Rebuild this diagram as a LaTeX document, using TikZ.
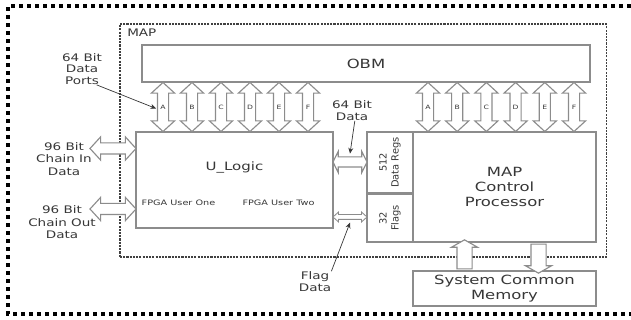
\documentclass[tikz,border=0pt]{standalone}
\usepackage{fontspec}
\setmainfont{DejaVu Sans}[FakeStretch=1.3]
\newfontfamily\regsfont{DejaVu Sans}
\definecolor{boxgray}{RGB}{140,140,140}
\definecolor{txtgray}{RGB}{55,55,55}
\usetikzlibrary{arrows.meta, shapes.arrows}

\begin{document}
\begin{tikzpicture}[x=0.025cm, y=-0.025cm,
          frame/.style={
              draw=black,
              line width=0.09cm,
              dash pattern=on 0.1cm off 0.1cm
            },
          mapbox/.style={
              draw=black!75,
              line width=0.8pt,
              dash pattern=on 1.5pt off 0.8pt,
              minimum width=12.15cm,
              minimum height=5.825cm
            },
          box/.style={
              draw=boxgray,
              fill=white,
              line width=0.9pt,
              text=txtgray,
              align=center,
              inner sep=0pt,
              font=\fontsize{9}{10.4}\selectfont
            },
          regbox/.style={
              box,
              rotate=90,
              minimum height=1.15cm,
              font=\regsfont\fontsize{7}{8.6}\selectfont
            },
          port/.style={
              double arrow,
              draw=boxgray,
              fill=white,
              line width=0.8pt,
              inner xsep=0pt,
              inner ysep=0.125cm,
              double arrow head extend=0.15cm,
              double arrow tip angle=95,
              minimum height=1.225cm
            },
          memarr/.style={
              single arrow,
              draw=boxgray,
              fill=white,
              line width=0.8pt,
              inner xsep=0pt,
              inner ysep=0.175cm,
              single arrow head extend=0.1375cm,
              single arrow tip angle=121,
              minimum height=0.725cm
            },
          note/.style={
              text=txtgray,
              align=center,
              inner sep=0pt,
              font=\fontsize{7.4}{8.6}\selectfont
            },
          small/.style={text=txtgray, inner sep=0pt, font=\fontsize{5.3}{6}\selectfont},
          portlbl/.style={text=txtgray, inner sep=0pt, font=\fontsize{4.2}{5}\selectfont},
          lead/.style={-{Stealth[length=4pt, width=3.5pt]}, draw=txtgray, line width=0.5pt}
        ]
        \useasboundingbox (0,0) rectangle (631,320);
        \draw[frame] (631,6) -- (8,6) -- (8,314) -- (631,314);

        % MAP module
        \node[mapbox] (map) at (363,140.5) {};
        \node[note, anchor=north west] (maplbl) at (127,28.5) {MAP};

        \node[box, minimum width=11.2cm, minimum height=0.925cm] (obm) at (366,63.5) {OBM};
        \node[box, minimum width=4.925cm, minimum height=2.4cm,
              font=\fontsize{8.2}{9.5}\selectfont] (ulogic) at (234.5,180) {U\_Logic\\[1.2em]};
        \node[small] (fpga1) at (178.5,203) {FPGA User One};
        \node[small] (fpga2) at (278.5,203) {FPGA User Two};

        \node[regbox, minimum width=1.525cm] (regs) at (390,162.5) {512\\Data Regs};
        \node[regbox, minimum width=1.2cm] (flags) at (390,218) {32\\Flags};
        \node[box, minimum width=4.575cm, minimum height=2.75cm] (mcp) at (504.5,187)
          {MAP\\Control\\Processor};
        \node[box, minimum width=4.575cm, minimum height=0.875cm] (scm) at (504.5,288.5)
          {System Common\\Memory};

        % data ports to OBM
        \foreach \p [count=\i from 0] in {A,B,C,D,E,F}{
            \node[port, rotate=90] (pl\p) at (163+29*\i,107) {};
            \node[portlbl] at (pl\p) {\p};
            \node[port, rotate=90] (pr\p) at (428+29.2*\i,107) {};
            \node[portlbl] at (pr\p) {\p};
          }

        % chain ports
        \node[port, minimum height=1.15cm] (chainin) at (113,148.5) {};
        \node[port, minimum height=1.15cm] (chainout) at (113,209) {};
        \node[note, font=\fontsize{7.4}{8.9}\selectfont] (chaininlbl) at (64,159) {96 Bit\\Chain In\\Data};
        \node[note, font=\fontsize{7.4}{8.9}\selectfont] (chainoutlbl) at (62,222.5) {96 Bit\\Chain Out\\Data};

        % U_Logic to processor
        \node[port, minimum height=0.85cm, inner ysep=0.1125cm, double arrow head extend=0.1375cm,
              double arrow tip angle=127] (dataarr) at (350,162) {};
        \node[port, minimum height=0.85cm, inner ysep=0.05cm, double arrow head extend=0.0625cm,
              double arrow tip angle=84, line width=0.6pt] (flagarr) at (350,217) {};

        % memory
        \node[memarr, rotate=90] (memup) at (464.5,256.5) {};
        \node[memarr, rotate=-90] (memdown) at (538.5,256.5) {};

        % labels
        \node[note, font=\fontsize{7.4}{8.2}\selectfont] (portslbl) at (82,69) {64 Bit\\Data\\Ports};
        \coordinate (portstip) at (156,108.5);
        \draw[lead] ([xshift=-4pt]portslbl.south east) -- (portstip);

        \node[note] (datalbl) at (352,110.5) {64 Bit\\Data};
        \draw[lead] ([xshift=2pt]datalbl.south) -- ([yshift=2pt]dataarr.north);

        \node[note] (flaglbl) at (315,281.5) {Flag\\Data};
        \draw[lead] (flaglbl.north east) -- ([yshift=-2pt]flagarr.south);
      \end{tikzpicture}
\end{document}
